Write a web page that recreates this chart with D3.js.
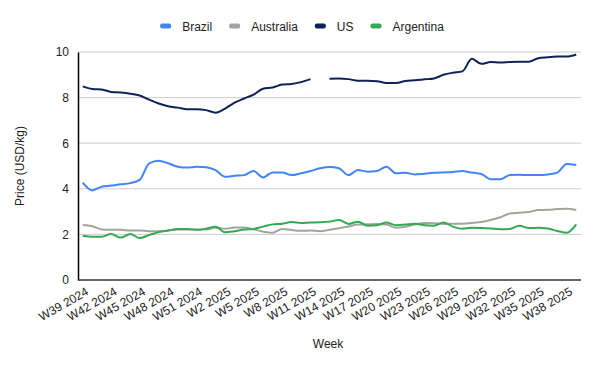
<!DOCTYPE html>
<html>
<head>
<meta charset="utf-8">
<script src="https://cdn.jsdelivr.net/npm/d3@7"></script>
<style>
body { margin: 0; background: #fff; }
text { font-family: "Liberation Sans", Arial, sans-serif; }
</style>
</head>
<body>
<script>
// data, USD/kg by week
var weeks = ["W39 2024","W40 2024","W41 2024","W42 2024","W43 2024","W44 2024","W45 2024","W46 2024","W47 2024","W48 2024",
  "W49 2024","W50 2024","W51 2024","W52 2024","W1 2025","W2 2025","W3 2025","W4 2025","W5 2025","W6 2025",
  "W7 2025","W8 2025","W9 2025","W10 2025","W11 2025","W12 2025","W13 2025","W14 2025","W15 2025","W16 2025",
  "W17 2025","W18 2025","W19 2025","W20 2025","W21 2025","W22 2025","W23 2025","W24 2025","W25 2025","W26 2025",
  "W27 2025","W28 2025","W29 2025","W30 2025","W31 2025","W32 2025","W33 2025","W34 2025","W35 2025","W36 2025",
  "W37 2025","W38 2025","W39 2025"];

var brazil = [4.27,3.93,4.09,4.14,4.2,4.25,4.39,5.12,5.23,5.12,4.97,4.93,4.97,4.95,4.82,4.53,4.57,4.6,4.78,4.5,
  4.72,4.72,4.6,4.68,4.78,4.9,4.96,4.9,4.6,4.82,4.75,4.78,4.97,4.68,4.7,4.63,4.66,4.7,4.72,4.74,
  4.78,4.71,4.65,4.42,4.42,4.6,4.62,4.6,4.6,4.63,4.71,5.09,5.04];

var australia = [2.41,2.36,2.22,2.2,2.2,2.17,2.17,2.14,2.14,2.17,2.22,2.22,2.22,2.22,2.3,2.25,2.3,2.3,2.22,2.12,
  2.07,2.24,2.19,2.16,2.17,2.14,2.2,2.27,2.35,2.43,2.44,2.46,2.43,2.29,2.34,2.43,2.5,2.49,2.46,2.47,
  2.47,2.5,2.54,2.63,2.75,2.92,2.95,2.98,3.07,3.08,3.11,3.13,3.07];

var us = [8.49,8.38,8.36,8.25,8.22,8.17,8.09,7.91,7.74,7.62,7.56,7.49,7.49,7.45,7.34,7.52,7.78,7.96,8.13,8.39,
  8.44,8.57,8.6,8.68,8.81,null,8.83,8.84,8.81,8.74,8.74,8.72,8.64,8.64,8.73,8.76,8.8,8.84,9.0,9.09,
  9.15,9.7,9.48,9.56,9.54,9.56,9.57,9.57,9.73,9.77,9.8,9.8,9.89];

var argentina = [1.94,1.9,1.9,2.02,1.86,2.02,1.84,1.97,2.1,2.17,2.24,2.24,2.2,2.25,2.34,2.09,2.14,2.21,2.24,2.34,
  2.44,2.47,2.54,2.5,2.52,2.53,2.56,2.63,2.46,2.56,2.38,2.4,2.52,2.4,2.43,2.47,2.4,2.38,2.52,2.34,
  2.25,2.29,2.28,2.26,2.23,2.24,2.38,2.28,2.29,2.26,2.15,2.07,2.44];

var yTicks = [0,2,4,6,8,10];

var series = [
  {name: "Brazil", values: brazil, color: "#4285f4"},
  {name: "Australia", values: australia, color: "#9fa79c"},
  {name: "US", values: us, color: "#0c2357"},
  {name: "Argentina", values: argentina, color: "#34a853"}
];

var W = 600, H = 371;
var plotL = 78, plotR = 581, plotT = 52, plotB = 280;

var svg = d3.select("body").append("svg").attr("width", W).attr("height", H);

var x = d3.scalePoint().domain(weeks).range([plotL, plotR]).padding(0.5);
var y = d3.scaleLinear().domain([0, 10]).range([plotB, plotT]);

// gridlines
svg.append("g").selectAll("line").data(yTicks.filter(function(d){ return d > 0; })).enter().append("line")
  .attr("x1", plotL).attr("x2", plotR)
  .attr("y1", function(d){ return y(d); }).attr("y2", function(d){ return y(d); })
  .attr("stroke", "#cccccc").attr("stroke-width", 1);

// y axis
var yAxis = svg.append("g").attr("transform", "translate(" + plotL + ",0)")
  .call(d3.axisLeft(y).tickValues(yTicks).tickSize(0).tickPadding(9));
yAxis.select(".domain").attr("stroke", "#000").attr("stroke-width", 1.5);
yAxis.selectAll("text").attr("font-size", 12).attr("fill", "#222").attr("font-family", "Liberation Sans, Arial, sans-serif");

// x axis
var xAxis = svg.append("g").attr("transform", "translate(0," + plotB + ")")
  .call(d3.axisBottom(x).tickValues(weeks.filter(function(d, i){ return i % 3 === 0 && i < 52; })).tickSize(0));
xAxis.select(".domain").attr("stroke", "#333").attr("stroke-width", 1.5).attr("d", "M" + plotL + ",0H" + plotR);
xAxis.selectAll("text")
  .attr("font-size", 12).attr("fill", "#222").attr("font-family", "Liberation Sans, Arial, sans-serif")
  .attr("text-anchor", "end")
  .attr("dy", null).attr("y", 0)
  .attr("transform", "translate(6,14) rotate(-30)");

// lines
var line = d3.line()
  .defined(function(d){ return d != null; })
  .x(function(d, i){ return x(weeks[i]); })
  .y(function(d){ return y(d); })
  .curve(d3.curveMonotoneX);

svg.append("g").selectAll("path").data(series).enter().append("path")
  .attr("fill", "none")
  .attr("stroke", function(d){ return d.color; })
  .attr("stroke-width", 2)
  .attr("d", function(d){ return line(d.values); });

// legend, centred on the chart
var lgG = svg.append("g");
var lg = lgG.selectAll("g").data(series).enter().append("g");
lg.append("rect").attr("x", 0).attr("y", -2.5).attr("width", 11).attr("height", 5).attr("rx", 2)
  .attr("fill", function(d){ return d.color; });
lg.append("text").attr("x", 22).attr("y", 4.5).attr("font-size", 12).attr("fill", "#222")
  .text(function(d){ return d.name; });
var cx = 0;
lg.each(function(){
  var g = d3.select(this);
  g.attr("transform", "translate(" + cx + ",0)");
  cx += 22 + g.select("text").node().getComputedTextLength() + 17;
});
cx -= 17;
lgG.attr("transform", "translate(" + (302 - cx / 2) + ",26)");

// axis titles
svg.append("text").attr("x", 328).attr("y", 348).attr("text-anchor", "middle")
  .attr("font-size", 12).attr("fill", "#222").text("Week");
svg.append("text").attr("transform", "translate(24,166) rotate(-90)").attr("text-anchor", "middle")
  .attr("font-size", 12).attr("fill", "#222").text("Price (USD/kg)");
</script>
</body>
</html>
